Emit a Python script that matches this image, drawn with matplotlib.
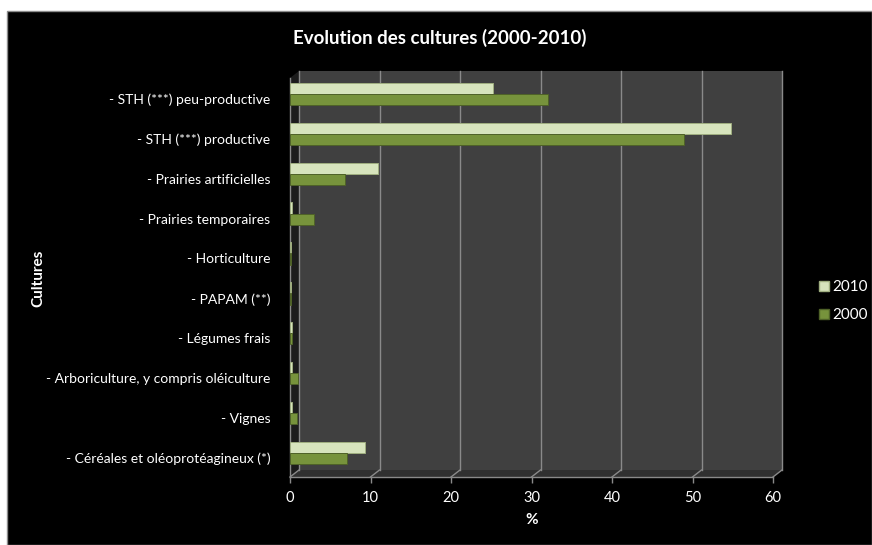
import matplotlib
matplotlib.use("Agg")
import matplotlib.pyplot as plt
from matplotlib.patches import Rectangle, Polygon
from matplotlib.lines import Line2D
import numpy as np

categories = [
    "- Céréales et oléoprotéagineux (*)",
    "- Vignes",
    "- Arboriculture, y compris oléiculture",
    "- Légumes frais",
    "- PAPAM (**)",
    "- Horticulture",
    "- Prairies temporaires",
    "- Prairies artificielles",
    "- STH (***) productive",
    "- STH (***) peu-productive",
]
values_2010 = [9.3, 0.2, 0.2, 0.2, 0.1, 0.1, 0.2, 10.9, 54.8, 25.2]
values_2000 = [7.1, 0.9, 1.0, 0.2, 0.1, 0.1, 3.0, 6.8, 49.0, 32.0]
series_labels = ["2010", "2000"]
xticks = [0, 10, 20, 30, 40, 50, 60]

FONT = ["Lato", "DejaVu Sans"]
plt.rcParams["font.family"] = FONT

W, H = 872, 545
fig = plt.figure(figsize=(W / 100, H / 100), dpi=100)
fig.patch.set_facecolor("white")

# black chart area with grey border
fig.patches.append(Rectangle((7 / W, 0), 1 - 7 / W, 1 - 11 / H, transform=fig.transFigure,
                             facecolor="black", edgecolor="#8c8c8c", linewidth=1.0, zorder=-10))

ax_l, ax_r, ax_t, ax_b = 290, 773, 71, 477
ax = fig.add_axes([ax_l / W, 1 - ax_b / H, (ax_r - ax_l) / W, (ax_b - ax_t) / H])
ax.set_zorder(1)
ax.set_facecolor("none")
for s in ax.spines.values():
    s.set_visible(False)

dxp, dyp = 9, 7
dx = dxp / (ax_r - ax_l)
dy = dyp / (ax_b - ax_t)
T = ax.transAxes

# 3D walls
ax.add_patch(Rectangle((dx, dy), 1, 1 - dy, transform=T, facecolor="#404040",
                       edgecolor="none", clip_on=False, zorder=0))
ax.add_patch(Polygon([(0, 0), (dx, dy), (dx, 1), (0, 1 - dy)], closed=True, transform=T,
                     facecolor="#1c1c1c", edgecolor="none", clip_on=False, zorder=0))
ax.add_patch(Polygon([(0, 0), (1, 0), (1 + dx, dy), (dx, dy)], closed=True, transform=T,
                     facecolor="#303030", edgecolor="none", clip_on=False, zorder=0))
xmax = xticks[-1]
for t in xticks:
    f = t / xmax
    ax.add_line(Line2D([f + dx, f + dx], [dy, 1], transform=T, color="#8a8a8a",
                       linewidth=1.0, clip_on=False, zorder=1))
    ax.add_line(Line2D([f, f + dx], [0, dy], transform=T, color="#8a8a8a",
                       linewidth=1.0, clip_on=False, zorder=1))
ax.add_line(Line2D([0, 1], [0, 0], transform=T, color="#8a8a8a", linewidth=1.0, clip_on=False, zorder=2))
ax.add_line(Line2D([0, 0], [0, 1 - dy], transform=T, color="#8a8a8a", linewidth=1.0, clip_on=False, zorder=2))

y = np.arange(len(categories))
off = 0.125
h = 0.28
ax.barh(y + off + h / 2, values_2010, height=h, left=0, color="#d7e4bd",
        edgecolor="#9fae80", linewidth=0.7, zorder=3, label=series_labels[0])
ax.barh(y + off - h / 2, values_2000, height=h, left=0, color="#77933c",
        edgecolor="#4f6228", linewidth=0.7, zorder=3, label=series_labels[1])

ax.set_xlim(0, xmax)
ax.set_ylim(-0.478, 9.70)
ax.set_xticks(xticks)
ax.set_xticklabels([str(t) for t in xticks])
ax.set_yticks(y)
ax.set_yticklabels(categories)
ax.tick_params(axis="y", length=0, pad=14, labelcolor="white", labelsize=10)
ax.tick_params(axis="x", length=4, width=1, color="#8a8a8a", pad=6, labelcolor="white", labelsize=10.5)

fig.text(440 / W, 1 - 38 / H, "Evolution des cultures (2000-2010)", color="white",
         fontsize=13.5, fontweight="bold", ha="center", va="center")
fig.text(532 / W, 1 - 520 / H, "%", color="white", fontsize=11, fontweight="bold",
         ha="center", va="center")
fig.text(38 / W, 1 - 278 / H, "Cultures", color="white", fontsize=11, fontweight="bold",
         ha="center", va="center", rotation=90)

handles = [Line2D([], [], marker="s", linestyle="none", markersize=7,
                  markerfacecolor="#d7e4bd", markeredgecolor="#9fae80"),
           Line2D([], [], marker="s", linestyle="none", markersize=7,
                  markerfacecolor="#77933c", markeredgecolor="#4f6228")]
leg = fig.legend(handles, series_labels, loc="center left", bbox_to_anchor=(819 / W, 1 - 301 / H),
                 frameon=False, labelcolor="white", fontsize=11, handlelength=0.6,
                 handletextpad=0.3, labelspacing=0.9, borderpad=0, borderaxespad=0)

fig.savefig("out.png", dpi=100, facecolor=fig.get_facecolor())
